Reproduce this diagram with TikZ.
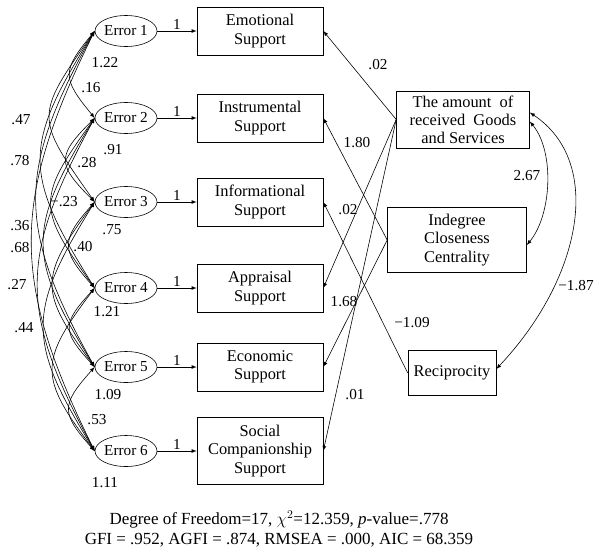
\documentclass[tikz,border=0pt]{standalone}
\usepackage{fontspec}
\setmainfont{Liberation Serif}
\usetikzlibrary{shapes.geometric}
\usetikzlibrary{positioning,arrows,calc}
\tikzstyle{errnode}=[ellipse, draw=black, minimum width=1.86cm, minimum height=0.93cm, inner sep=0pt]
\tikzstyle{obs}=[rectangle, draw=black, text centered, align=center, minimum width=3.78cm, minimum height=1.44cm, inner sep=1pt, font=\fontsize{14}{15.5}\selectfont]
\tikzstyle{myarrow}=[-latex]
\tikzstyle{cov}=[latex-latex]
\tikzstyle{coef}=[inner sep=1pt]

\begin{document}
\begin{tikzpicture}[x=0.03cm, y=-0.03cm, line width=0.5pt, font=\fontsize{13}{15}\selectfont]
        \useasboundingbox (0,0) rectangle (594,557);

        % Errors
        \node (err1) [errnode] at (126,31) {Error 1};
        \node (err2) [errnode] at (126,118) {Error 2};
        \node (err3) [errnode] at (126,202) {Error 3};
        \node (err4) [errnode] at (126,288) {Error 4};
        \node (err5) [errnode] at (126,367) {Error 5};
        \node (err6) [errnode] at (126,451) {Error 6};

        % Support types
        \node (emotional) [obs, right of=err1, node distance=4.02cm] {Emotional\\Support};
        \node (instrumental) [obs, right of=err2, node distance=4.02cm] {Instrumental\\Support};
        \node (informational) [obs, right of=err3, node distance=4.02cm] {Informational\\Support};
        \node (appraisal) [obs, right of=err4, node distance=4.02cm] {Appraisal\\Support};
        \node (economic) [obs, right of=err5, node distance=4.02cm] {Economic\\Support};
        \node (social) [obs, right of=err6, node distance=4.02cm, minimum height=2.01cm] {Social\\Companionship\\Support};

        % Network measures
        \node (amount) [obs, minimum width=3.99cm, minimum height=1.71cm] at (463,119.5) {The amount~~of\\received~~Goods\\and Services};
        \node (indegree) [obs, minimum width=4.17cm, minimum height=1.95cm] at (457,240) {Indegree\\Closeness\\Centrality};
        \node (reciprocity) [obs, minimum width=2.64cm, minimum height=1.35cm] at (452,373) {Reciprocity};

        %Arrows
        \foreach \i/\b in {1/emotional,2/instrumental,3/informational,4/appraisal,5/economic,6/social}
            \draw[myarrow] (err\i.east) -- node[above, coef] (one\i) {1} (err\i.east -| \b.west);

        \draw[myarrow] (amount.west) -- (emotional.east);
        \draw[myarrow] (amount.west) -- (appraisal.east);
        \draw[myarrow] (amount.west) -- (social.east);
        \draw[myarrow] (indegree.west) -- (instrumental.east);
        \draw[myarrow] (indegree.west) -- (economic.east);
        \draw[myarrow] (reciprocity.west) -- (informational.east);

        %Covariances
        \draw[cov] ($(amount.east)+(0,2)$) .. controls +(25,30) and +(25,-30) .. ($(indegree.east)+(0,5)$);
        \draw[cov] ($(amount.east)+(0,-7)$) .. controls +(75,50) and +(85,-90) .. ($(reciprocity.east)+(0,-4)$);

        \foreach \i/\j/\c/\s in {1/2/33/40, 1/3/60/85, 1/4/72/115, 1/5/78/140, 1/6/84/170,
                                 2/3/38/38, 2/4/58/80, 2/5/68/110, 2/6/76/140,
                                 3/4/34/38, 3/5/56/76, 3/6/68/110,
                                 4/5/33/36, 4/6/56/74, 5/6/34/38}
            \draw[cov] (err\i.west) .. controls +(-\c,\s) and +(-\c,-\s) .. (err\j.west);

        % Estimates
        \foreach \n/\x/\y/\t in {var1/105/63/1.22, var2/113/150/.91, var3/112/230/.75,
                                 var4/107/312/1.21, var5/108/395/1.09, var6/105/483/1.11,
                                 c12/91/88/.16, c14/21/120/.47, c15/20/161/.78, c23/87/163/.28,
                                 c13/64/202/−.23, c16/20/226/.36, c25/20/248/.68, c34/83/247/.40,
                                 c26/17/285/.27, c36/24/328/.44, c56/97/420/.53,
                                 pEmo/378/65/.02, pIns/357/143/1.80, pApp/348/210/.02,
                                 pEco/344/302/1.68, pInf/412/323/−1.09, pSoc/355/395/.01,
                                 rInd/527/176/2.67, rRec/576/286/−1.87}
            \node[coef] (\n) at (\x,\y) {\t};

        \node (fitindex) [align=center, font=\fontsize{14.5}{17}\selectfont] at (279,529) {Degree of Freedom=17, $\chi^{2}$=12.359, \textit{p}-value=.778\\GFI = .952, AGFI = .874, RMSEA = .000, AIC = 68.359};

\end{tikzpicture}
\end{document}
